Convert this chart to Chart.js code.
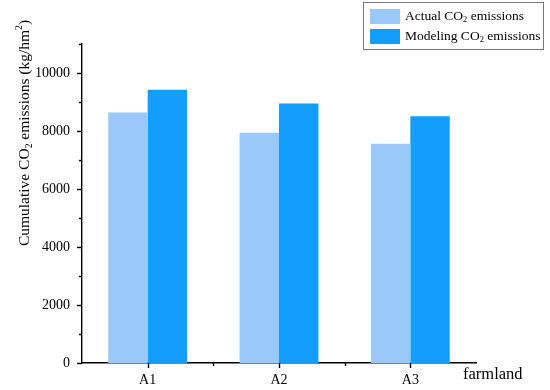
<!DOCTYPE html>
<html>
<head>
<meta charset="utf-8">
<script src="https://cdn.jsdelivr.net/npm/chart.js@4.4.1/dist/chart.umd.min.js"></script>
<style>
html,body{margin:0;padding:0;background:#fff;}
#wrap{width:550px;height:390px;position:relative;}
</style>
</head>
<body>
<div id="wrap"><canvas id="c" width="550" height="390"></canvas></div>
<script>
const categories = ['A1', 'A2', 'A3'];
const actualCO2 = [8640, 7940, 7560];
const modelingCO2 = [9420, 8950, 8510];
const seriesLabels = ['Actual CO2 emissions', 'Modeling CO2 emissions'];
const yMin = 0, yMax = 11000, yStep = 1000, yLabelStep = 2000;
const xTitle = 'farmland';

const FONT = '"Liberation Serif", "Times New Roman", serif';
const lightBlue = '#9ac8f8';
const darkBlue = '#139dfd';

function drawRich(ctx, parts, x, y, size) {
  let cx = x;
  for (const [t, m] of parts) {
    const fs = m ? size * 0.62 : size;
    ctx.font = fs + 'px ' + FONT;
    const dy = m === 1 ? size * 0.28 : (m === 2 ? -size * 0.38 : 0);
    ctx.fillText(t, cx, y + dy);
    cx += ctx.measureText(t).width;
  }
  return cx - x;
}
function measureRich(ctx, parts, size) {
  let w = 0;
  for (const [t, m] of parts) {
    const fs = m ? size * 0.62 : size;
    ctx.font = fs + 'px ' + FONT;
    w += ctx.measureText(t).width;
  }
  return w;
}
function splitCO2(label) {
  const i = label.indexOf('CO2');
  return [[label.slice(0, i + 2), 0], ['2', 1], [label.slice(i + 3), 0]];
}

const decorPlugin = {
  id: 'decor',
  afterDraw(chart) {
    const ctx = chart.ctx;
    const xs = chart.scales.x, ys = chart.scales.y;
    const area = chart.chartArea;
    ctx.save();
    ctx.strokeStyle = '#000';
    ctx.lineWidth = 1.4;
    for (let v = yMin; v <= yMax; v += yStep) {
      const py = Math.round(ys.getPixelForValue(v)) + 0.5;
      const len = (v % yLabelStep === 0) ? 5 : 3;
      ctx.beginPath();
      ctx.moveTo(area.left - len, py);
      ctx.lineTo(area.left, py);
      ctx.stroke();
    }
    const n = categories.length;
    for (let i = 0; i < n; i++) {
      const px = Math.round(xs.getPixelForValue(i)) + 0.5;
      ctx.beginPath();
      ctx.moveTo(px, area.bottom);
      ctx.lineTo(px, area.bottom + 5);
      ctx.stroke();
      if (i < n - 1) {
        const bx = Math.round(xs.getPixelForValue(i + 0.5)) + 0.5;
        ctx.beginPath();
        ctx.moveTo(bx, area.bottom);
        ctx.lineTo(bx, area.bottom + 3);
        ctx.stroke();
      }
    }
    ctx.fillStyle = '#000';
    ctx.textBaseline = 'middle';
    ctx.textAlign = 'left';
    ctx.font = '16.5px ' + FONT;
    ctx.fillText(xTitle, area.right - 13, 375);
    const yParts = [['Cumulative CO', 0], ['2', 1], [' emissions (kg/hm', 0], ['2', 2], [')', 0]];
    const ysz = 15.5;
    const tw = measureRich(ctx, yParts, ysz);
    ctx.save();
    ctx.translate(25, 133);
    ctx.rotate(-Math.PI / 2);
    ctx.textBaseline = 'middle';
    drawRich(ctx, yParts, -tw / 2, 0, ysz);
    ctx.restore();
    const lx = 363.5, ly = 2.5, lw = 180, lh = 47;
    ctx.lineWidth = 1;
    ctx.strokeStyle = '#777';
    ctx.strokeRect(lx, ly, lw, lh);
    const ds = chart.data.datasets;
    ds.forEach((d, i) => {
      const sy = 9 + i * 20;
      ctx.fillStyle = d.backgroundColor;
      ctx.fillRect(370, sy, 30, 15);
      ctx.fillStyle = '#000';
      ctx.textBaseline = 'middle';
      drawRich(ctx, splitCO2(d.label), 405, sy + 7, 13.5);
    });
    ctx.restore();
  }
};

new Chart(document.getElementById('c'), {
  type: 'bar',
  data: {
    labels: categories,
    datasets: [
      { label: seriesLabels[0], data: actualCO2, backgroundColor: lightBlue, categoryPercentage: 0.6, barPercentage: 1.0, borderWidth: 0 },
      { label: seriesLabels[1], data: modelingCO2, backgroundColor: darkBlue, categoryPercentage: 0.6, barPercentage: 1.0, borderWidth: 0 }
    ]
  },
  options: {
    responsive: false,
    animation: false,
    devicePixelRatio: 1,
    layout: { padding: { top: 44, right: 74, left: 0, bottom: 0 } },
    plugins: { legend: { display: false }, tooltip: { enabled: false } },
    scales: {
      x: {
        grid: { display: false, drawTicks: false },
        border: { display: true, color: '#000', width: 1.4 },
        ticks: { color: '#000', font: { family: FONT, size: 14 }, padding: 9 },
        afterFit(s) { s.height = 27; }
      },
      y: {
        min: yMin, max: yMax,
        grid: { display: false, drawTicks: false },
        border: { display: true, color: '#000', width: 1.4 },
        ticks: {
          stepSize: yStep, color: '#000', font: { family: FONT, size: 14 }, padding: 12,
          callback: (v) => (v % yLabelStep === 0 ? String(v) : '')
        },
        afterFit(s) { s.width = 82; }
      }
    }
  },
  plugins: [decorPlugin]
});
</script>
</body>
</html>
